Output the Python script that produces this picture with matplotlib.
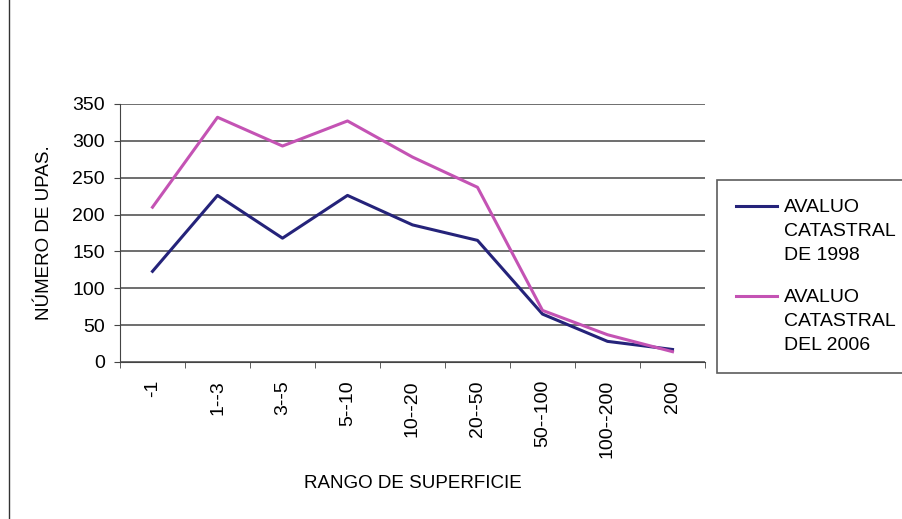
import matplotlib
matplotlib.use("Agg")
import matplotlib.pyplot as plt
from matplotlib.lines import Line2D

plt.rcParams['font.family'] = ['Liberation Sans', 'DejaVu Sans']

categorias = ['-1', '1--3', '3--5', '5--10', '10--20', '20--50', '50--100', '100--200', '200']
avaluo_1998 = [123, 226, 168, 226, 186, 165, 65, 28, 17]
avaluo_2006 = [210, 332, 293, 327, 278, 237, 70, 37, 14]

fs = 14
fig = plt.figure(figsize=(9.03, 5.19), dpi=100)
ax = fig.add_axes([120 / 903, 1 - 362 / 519, 585 / 903, 258 / 519])

x = list(range(len(categorias)))
ax.plot(x, avaluo_1998, color='#25237a', lw=2.2, label='AVALUO\nCATASTRAL\nDE 1998')
ax.plot(x, avaluo_2006, color='#c453b4', lw=2.2, label='AVALUO\nCATASTRAL\nDEL 2006')

ax.set_xlim(-0.5, len(categorias) - 0.5)
ax.set_ylim(0, 350)
ax.set_yticks(range(0, 351, 50))
ax.yaxis.grid(True, color='#555555', lw=1.2)
ax.set_axisbelow(True)

ax.set_xticks(x)
ax.set_xticklabels(categorias, rotation=90, fontsize=fs)
ax.set_xticks([i - 0.5 for i in range(len(categorias) + 1)], minor=True)
ax.tick_params(axis='x', which='major', length=0, pad=13)
ax.tick_params(axis='x', which='minor', length=4, direction='out', color='#444444')
ax.tick_params(axis='y', labelsize=fs, length=4, pad=7, color='#444444')

for s in ['top', 'right']:
    ax.spines[s].set_visible(False)
ax.spines['left'].set_color('#444444')
ax.spines['bottom'].set_color('#444444')

ax.set_ylabel('NÚMERO DE UPAS.', fontsize=13.5, labelpad=14)
ax.set_xlabel('RANGO DE SUPERFICIE', fontsize=13.5, labelpad=12)

leg = fig.legend(loc='upper left', bbox_to_anchor=(717 / 903, 1 - 180 / 519),
                 fontsize=fs, frameon=True, fancybox=False, edgecolor='#333333',
                 handlelength=2.1, handletextpad=0.36, labelspacing=1.3,
                 borderpad=1.0, borderaxespad=0)
leg.get_frame().set_linewidth(1.2)
for t in leg.get_texts():
    t.set_linespacing(1.52)
# put the handle level with the first line of each label
for ln in leg.get_lines():
    ln.set_ydata([y + 18 for y in ln.get_ydata()])

fig.add_artist(Line2D([9 / 903, 9 / 903], [0, 1], color='#333333', lw=1))

fig.savefig('out.png', dpi=100)
